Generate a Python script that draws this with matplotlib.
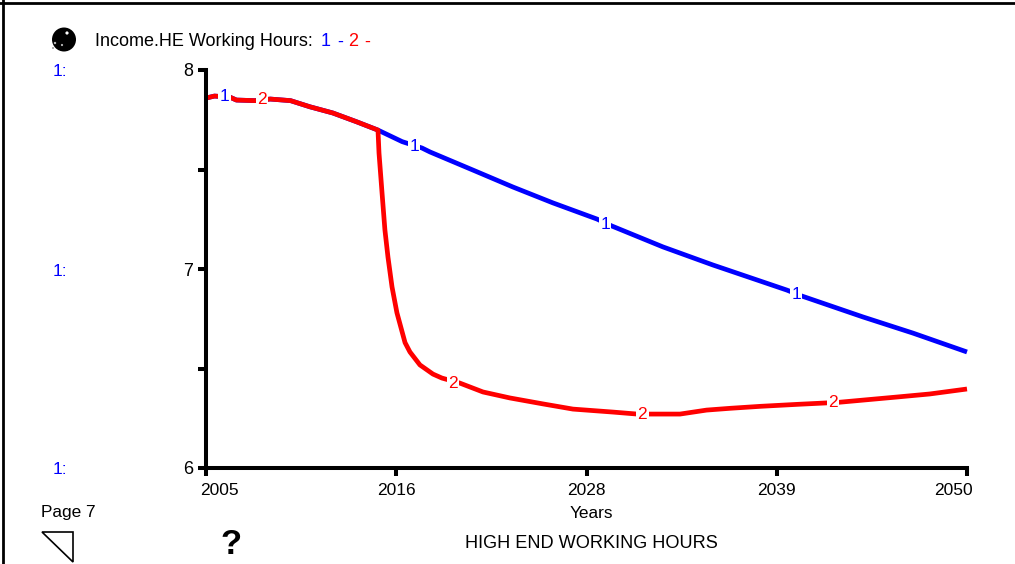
"""
HIGH END WORKING HOURS chart, stock and flow model output style.
"""
import matplotlib
matplotlib.use('Agg')
import matplotlib.pyplot as plt
from matplotlib.lines import Line2D
from matplotlib.patches import Circle, Polygon
from matplotlib.transforms import ScaledTranslation

plt.rcParams['font.family'] = ['Liberation Sans', 'DejaVu Sans']

W, H = 1015, 564
BLUE = '#0000ff'
RED = '#ff0000'

# values
years_early = [2005.0, 2005.5, 2006.4, 2006.8, 2007.9, 2008.8, 2010.0, 2011.15, 2012.5, 2013.9, 2015.17]
hours_early = [7.859, 7.869, 7.864, 7.849, 7.846, 7.854, 7.846, 7.815, 7.784, 7.74, 7.698]

years_1 = years_early + [2016.6, 2017.77, 2018.25, 2020.79, 2023.15, 2025.52, 2028.12, 2029.0,
                         2032.02, 2034.98, 2039.35, 2040.24, 2043.85, 2046.8, 2050.0]
hours_1 = hours_early + [7.64, 7.608, 7.588, 7.497, 7.412, 7.332, 7.251, 7.216,
                         7.111, 7.02, 6.894, 6.864, 6.759, 6.678, 6.583]

years_2 = years_early + [2015.23, 2015.41, 2015.58, 2015.76, 2016.0, 2016.29, 2016.77, 2017.06,
                         2017.65, 2018.42, 2018.95, 2020.0, 2021.38, 2022.97, 2024.93, 2026.7,
                         2029.07, 2030.5, 2033.03, 2034.6, 2036.0, 2037.8, 2040.0, 2042.4,
                         2045.9, 2047.8, 2050.0]
hours_2 = hours_early + [7.583, 7.382, 7.196, 7.06, 6.91, 6.78, 6.63, 6.583,
                         6.518, 6.472, 6.452, 6.427, 6.382, 6.352, 6.322, 6.296,
                         6.281, 6.271, 6.271, 6.291, 6.30, 6.31, 6.32, 6.33,
                         6.357, 6.372, 6.397]

x_ticks = [2005, 2016.25, 2027.5, 2038.75, 2050]
x_labels = ['2005', '2016', '2028', '2039', '2050']
y_ticks = [6, 6.5, 7, 7.5, 8]
y_labels = ['6', '', '7', '', '8']

# inline curve labels: (year, value)
labels_1 = [(2006.1, 7.865), (2017.3, 7.615), (2028.6, 7.225), (2039.9, 6.87)]
labels_2 = [(2008.3, 7.85), (2019.6, 6.425), (2030.8, 6.27), (2042.08, 6.33)]


def px(x, y):
    """Pixel position (from top left) to figure fraction."""
    return x / W, 1 - y / H


fig = plt.figure(figsize=(W / 100, H / 100), dpi=100)
ax = fig.add_axes([206 / W, 1 - 468 / H, (967 - 206) / W, (468 - 70) / H])

ax.plot(years_1, hours_1, color=BLUE, lw=3.4, solid_capstyle='butt', clip_on=False)
ax.plot(years_2, hours_2, color=RED, lw=3.4, solid_capstyle='butt', clip_on=False)

for x, y in labels_1:
    ax.text(x, y, '1', color=BLUE, fontsize=12.5, ha='center', va='center',
            bbox=dict(fc='white', ec='none', pad=1.0))
for x, y in labels_2:
    ax.text(x, y, '2', color=RED, fontsize=12.5, ha='center', va='center',
            bbox=dict(fc='white', ec='none', pad=1.0))

ax.set_xlim(2005, 2050)
ax.set_ylim(6, 8)
ax.set_xticks(x_ticks)
ax.set_xticklabels(x_labels)
ax.set_yticks(y_ticks)
ax.set_yticklabels(y_labels)
ax.spines['top'].set_visible(False)
ax.spines['right'].set_visible(False)
ax.spines['left'].set_linewidth(2.9)
ax.spines['bottom'].set_linewidth(2.9)
ax.tick_params(axis='x', length=6, width=2.9, labelsize=12.5, pad=5)
ax.tick_params(axis='y', length=6, width=2.9, labelsize=13, pad=3)

# the end labels sit inward from their ticks
tick_text = ax.get_xticklabels()
tick_text[0].set_transform(tick_text[0].get_transform() + ScaledTranslation(13 / 100, 0, fig.dpi_scale_trans))
tick_text[-1].set_transform(tick_text[-1].get_transform() + ScaledTranslation(-14 / 100, 0, fig.dpi_scale_trans))

# outer frame, top and left only
fig.add_artist(Line2D([3 / W, 3 / W], [0, 1], color='black', lw=2))
fig.add_artist(Line2D([0, 1], [1 - 3 / H, 1 - 3 / H], color='black', lw=2))

# title row
fig.text(*px(95, 42), 'Income.HE Working Hours:', fontsize=13, va='center')
fig.text(*px(321, 42), '1', color=BLUE, fontsize=13, va='center')
fig.text(*px(337, 42), '-', color=BLUE, fontsize=13, va='center')
fig.text(*px(348, 42), '2', color=RED, fontsize=13, va='center')
fig.text(*px(364, 42), '-', color=RED, fontsize=13, va='center')

for y in [71, 271, 470]:
    fig.text(*px(53, y), '1:', color=BLUE, fontsize=12.5, va='center')

# footer
fig.text(*px(41, 513), 'Page 7', fontsize=12.4, va='center')
fig.text(*px(591, 513), 'Years', fontsize=12.4, va='center', ha='center')
fig.text(*px(591, 543), 'HIGH END WORKING HOURS', fontsize=13.1, va='center', ha='center')
fig.text(*px(231, 544), '?', fontsize=25, fontweight='bold', va='center', ha='center')

# page turner triangle
fig.add_artist(Polygon([px(42, 532), px(73, 532), px(73, 562)], closed=True,
                       fc='white', ec='black', lw=1.2, transform=fig.transFigure))

# sphere icon, drawn in pixel units
icon = fig.add_axes([0, 0, 1, 1], facecolor='none')
icon.set_xlim(0, W)
icon.set_ylim(H, 0)
icon.axis('off')
icon.add_patch(Circle((64, 39.5), 12, fc='black', ec='none'))
icon.add_patch(Circle((67, 33), 1.6, fc='white', ec='none'))
icon.add_patch(Circle((55, 43), 1.2, fc='#bbbbbb', ec='none'))
icon.add_patch(Circle((62, 45), 1.1, fc='#bbbbbb', ec='none'))
icon.add_patch(Circle((53, 48), 1.0, fc='#999999', ec='none'))

fig.savefig('out.png', dpi=100)
